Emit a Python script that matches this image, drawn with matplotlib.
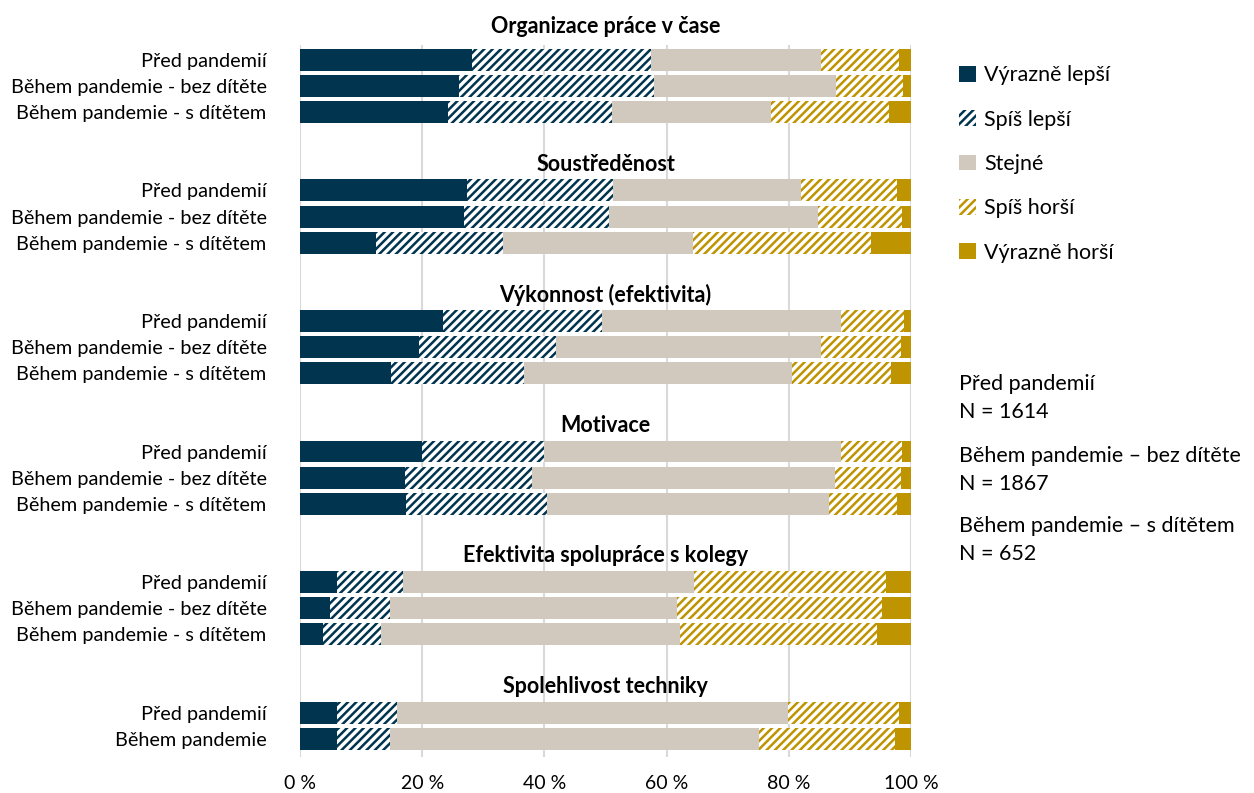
import matplotlib
matplotlib.use("Agg")
import matplotlib.pyplot as plt

plt.rcParams['font.family'] = ['Lato', 'DejaVu Sans']
plt.rcParams['hatch.linewidth'] = 1.8

# categories and rows
groups = ['Organizace práce v čase', 'Soustředěnost', 'Výkonnost (efektivita)',
          'Motivace', 'Efektivita spolupráce s kolegy', 'Spolehlivost techniky']
rows3 = ['Před pandemií', 'Během pandemie - bez dítěte', 'Během pandemie - s dítětem']
rows2 = ['Před pandemií', 'Během pandemie']
group_rows = [rows3, rows3, rows3, rows3, rows3, rows2]

series = ['Výrazně lepší', 'Spíš lepší', 'Stejné', 'Spíš horší', 'Výrazně horší']

# values in % per row: [Výrazně lepší, Spíš lepší, Stejné, Spíš horší, Výrazně horší]
organizace = [[28.1, 29.4, 27.8, 12.8, 1.9],
              [26.0, 32.0, 29.8, 10.9, 1.3],
              [24.2, 26.9, 26.0, 19.3, 3.6]]
soustredenost = [[27.3, 24.0, 30.7, 15.7, 2.3],
                 [26.8, 23.8, 34.2, 13.7, 1.5],
                 [12.5, 20.8, 31.1, 29.1, 6.5]]
vykonnost = [[23.4, 26.1, 39.0, 10.4, 1.1],
             [19.4, 22.5, 43.4, 13.1, 1.6],
             [14.9, 21.8, 43.8, 16.3, 3.2]]
motivace = [[19.9, 20.0, 48.6, 10.0, 1.5],
            [17.2, 20.7, 49.6, 10.9, 1.6],
            [17.4, 23.0, 46.2, 11.1, 2.3]]
spoluprace = [[6.0, 10.9, 47.6, 31.4, 4.1],
              [4.9, 9.9, 46.9, 33.6, 4.7],
              [3.8, 9.4, 49.0, 32.3, 5.5]]
technika = [[6.0, 9.9, 64.0, 18.2, 1.9],
            [6.0, 8.7, 60.5, 22.1, 2.7]]
group_values = [organizace, soustredenost, vykonnost, motivace, spoluprace, technika]

notes = ['Před pandemií\nN = 1614', 'Během pandemie – bez dítěte\nN = 1867',
         'Během pandemie – s dítětem\nN = 652']

dark = '#00344F'
beige = '#D1C9BD'
gold = '#BE9400'
styles = [dict(color=dark, hatch=None),
          dict(color=dark, hatch='////'),
          dict(color=beige, hatch=None),
          dict(color=gold, hatch='////'),
          dict(color=gold, hatch=None)]

fig = plt.figure(figsize=(12.54, 7.93), dpi=100)
ax = fig.add_axes([300 / 1254, 1 - 757 / 793, 611 / 1254, 712 / 793])

pitch = 5.0
yticks, ylabels = [], []
handles = [None] * 5
for g, (title, rows, vals) in enumerate(zip(groups, group_rows, group_values)):
    base = g * pitch
    ty = base - 1.27 if g == 0 else base - 1.0
    ax.text(50, ty, title, ha='center', va='center', fontsize=15.5, fontweight='bold',
            clip_on=False)
    for r, (lab, v) in enumerate(zip(rows, vals)):
        y = base + r
        yticks.append(y)
        ylabels.append(lab)
        left = 0
        for s in range(5):
            st = styles[s]
            if st['hatch']:
                b = ax.barh(y, v[s], left=left, height=0.84, facecolor='white',
                            edgecolor=st['color'], hatch=st['hatch'], linewidth=0,
                            label=series[s], zorder=3)
            else:
                b = ax.barh(y, v[s], left=left, height=0.84, color=st['color'],
                            linewidth=0, label=series[s], zorder=3)
            handles[s] = b
            left += v[s]

ax.set_xlim(0, 100)
ax.set_ylim(26.7, -0.57)
ax.set_yticks(yticks)
ax.set_yticklabels(ylabels, fontsize=14.3)
ax.set_xticks(range(0, 101, 20))
ax.set_xticklabels([f'{t} %' for t in range(0, 101, 20)], fontsize=14)
ax.tick_params(length=0)
ax.tick_params(axis='y', pad=24)
ax.tick_params(axis='x', pad=13)
ax.grid(axis='x', color='#D9D9D9', linewidth=1.5, zorder=0)
ax.set_axisbelow(True)
for sp in ax.spines.values():
    sp.set_visible(False)

fig.legend(handles, series, loc='upper left', bbox_to_anchor=(940 / 1254, 1 - 46 / 793),
           frameon=False, fontsize=15.5, handlelength=0.75, handleheight=0.75,
           handletextpad=0.4, labelspacing=1.13)

ny = [386, 458, 528]
for t, y in zip(notes, ny):
    fig.text(959 / 1254, 1 - (y - 12) / 793, t, fontsize=15.5, va='top', ha='left',
             linespacing=1.5)

fig.savefig('out.png', dpi=100)
